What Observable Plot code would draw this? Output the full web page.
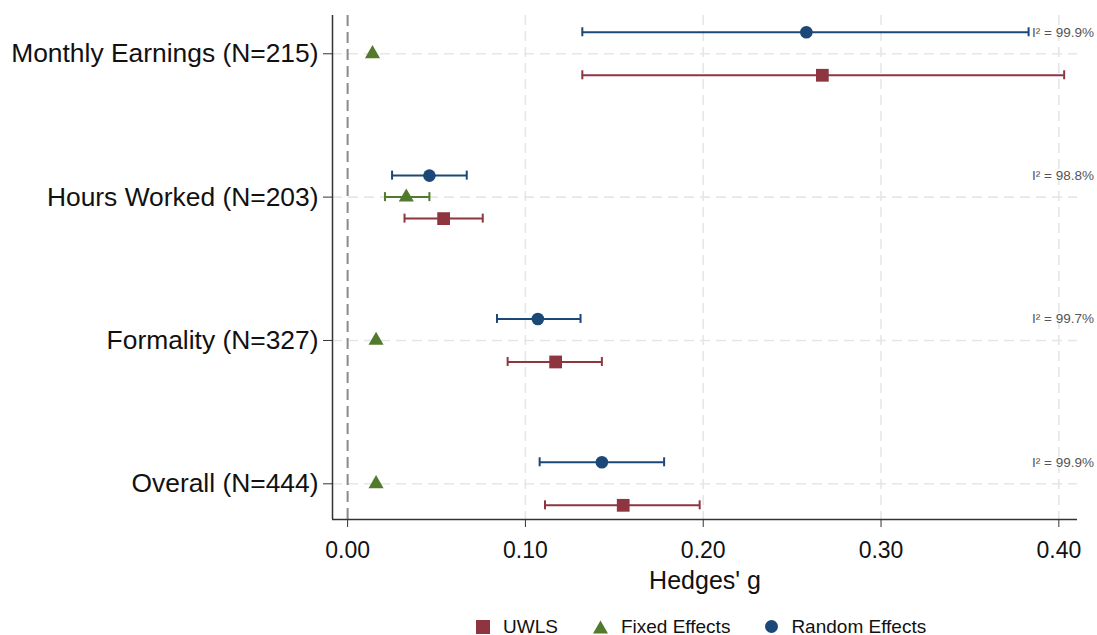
<!DOCTYPE html>
<html>
<head>
<meta charset="utf-8">
<script src="https://cdn.jsdelivr.net/npm/d3@7"></script>
<script src="https://cdn.jsdelivr.net/npm/@observablehq/plot@0.6"></script>
<style>
  html, body { margin: 0; padding: 0; background: #fff; }
  body { font-family: "Liberation Sans", Arial, sans-serif; width: 1097px; height: 635px; position: relative; overflow: hidden; }
  #chart svg { display: block; }
  #legend { position: absolute; left: 476px; top: 617px; height: 19px; display: flex; align-items: center; font-size: 19px; line-height: 19px; color: #111; white-space: nowrap; }
  #legend .item { display: flex; align-items: center; }
  #legend svg { display: block; margin-right: 13px; }
  #legend .item + .item { margin-left: 35px; }
</style>
</head>
<body>
<div id="chart"></div>
<div id="legend"></div>
<script>
// ---- Data ----
const categories = ["Monthly Earnings (N=215)", "Hours Worked (N=203)", "Formality (N=327)", "Overall (N=444)"];
const seriesNames = ["UWLS", "Fixed Effects", "Random Effects"];
const seriesColors = ["#8e3540", "#527a2c", "#1b4876"];
const uwlsEst = [0.267, 0.054, 0.117, 0.155];
const uwlsLo  = [0.132, 0.032, 0.090, 0.111];
const uwlsHi  = [0.403, 0.076, 0.143, 0.198];
const feEst = [0.014, 0.033, 0.016, 0.016];
const feLo  = [null, 0.021, null, null];
const feHi  = [null, 0.046, null, null];
const reEst = [0.258, 0.046, 0.107, 0.143];
const reLo  = [0.132, 0.025, 0.084, 0.108];
const reHi  = [0.383, 0.067, 0.131, 0.178];
const i2Labels = ["I\u00b2 = 99.9%", "I\u00b2 = 98.8%", "I\u00b2 = 99.7%", "I\u00b2 = 99.9%"];
const xTicks = [0, 0.1, 0.2, 0.3, 0.4];
const xTitle = "Hedges' g";

// ---- Layout helpers ----
const nCat = categories.length;
const catPos = categories.map((c, i) => nCat - i);          // top category highest
const seriesOffset = {"UWLS": -0.15, "Fixed Effects": 0, "Random Effects": 0.15};
const xDomain = [-0.0085, 0.4105];
const yDomain = [0.751, 4.267];

const seriesData = [
  {name: "UWLS", est: uwlsEst, lo: uwlsLo, hi: uwlsHi},
  {name: "Fixed Effects", est: feEst, lo: feLo, hi: feHi},
  {name: "Random Effects", est: reEst, lo: reLo, hi: reHi}
];
const rows = [];
seriesData.forEach((s) => {
  categories.forEach((c, i) => {
    rows.push({series: s.name, cat: c, y: catPos[i] + seriesOffset[s.name], est: s.est[i], lo: s.lo[i], hi: s.hi[i],
               color: seriesColors[seriesNames.indexOf(s.name)]});
  });
});
const ciRows = rows.filter(d => d.lo != null && d.hi != null);
const i2Rows = categories.map((c, i) => ({y: catPos[i] + seriesOffset["Random Effects"], text: i2Labels[i]}));

const dotR = {"UWLS": 7.2, "Fixed Effects": 5.6, "Random Effects": 6.3};
const dotSym = {"UWLS": "square", "Fixed Effects": "triangle", "Random Effects": "circle"};

const chart = Plot.plot({
  width: 1097,
  height: 600,
  marginTop: 15,
  marginBottom: 81,
  marginLeft: 332,
  marginRight: 20,
  x: {domain: xDomain},
  y: {domain: yDomain},
  style: {fontFamily: "'Liberation Sans', Arial, sans-serif", background: "#fff", color: "#000"},
  marks: [
    Plot.gridX(xTicks.filter(d => d > 0), {stroke: "#e6e6e6", strokeOpacity: 1, strokeWidth: 1.6, strokeDasharray: "10,6"}),
    Plot.gridY(catPos, {stroke: "#e6e6e6", strokeOpacity: 1, strokeWidth: 1.6, strokeDasharray: "10,6"}),
    Plot.ruleX([0], {stroke: "#8a8a8a", strokeWidth: 2, strokeDasharray: "11,6"}),
    Plot.axisX(xTicks, {tickFormat: d3.format(".2f"), tickSize: 8, tickPadding: 14, fontSize: 23, label: null, stroke: "#333", fill: "#111"}),
    Plot.axisY(catPos, {tickFormat: d => categories[nCat - d], tickSize: 9, tickPadding: 5, fontSize: 26.4, label: null, stroke: "#333", fill: "#111"}),
    Plot.ruleX([xDomain[0]], {stroke: "#333", strokeWidth: 1.5}),
    Plot.ruleY([yDomain[0]], {stroke: "#333", strokeWidth: 1.5}),
    // confidence intervals
    Plot.ruleY(ciRows, {x1: "lo", x2: "hi", y: "y", stroke: "color", strokeWidth: 2}),
    Plot.ruleX(ciRows, {x: "lo", y1: "y", y2: "y", insetTop: -4.5, insetBottom: -4.5, stroke: "color", strokeWidth: 2}),
    Plot.ruleX(ciRows, {x: "hi", y1: "y", y2: "y", insetTop: -4.5, insetBottom: -4.5, stroke: "color", strokeWidth: 2}),
    // point estimates
    ...seriesNames.map(s => Plot.dot(rows.filter(d => d.series === s), {
      x: "est", y: "y", symbol: () => dotSym[s], r: dotR[s], fill: "color", stroke: "none"
    })),
    // I² annotations
    Plot.text(i2Rows, {y: "y", text: "text", frameAnchor: "right", textAnchor: "end", dx: 16.5, fontSize: 13.5, fill: "#555"}),
    // x-axis title
    Plot.text([xTitle], {frameAnchor: "bottom", lineAnchor: "top", dy: 52, fontSize: 25, fill: "#111"})
  ]
});
document.getElementById("chart").appendChild(chart);

// ---- Legend ----
const legend = document.getElementById("legend");
const legendShapes = {
  "UWLS": '<svg width="14" height="14"><rect x="0" y="0" width="14" height="14" fill="COL"/></svg>',
  "Fixed Effects": '<svg width="15" height="14"><path d="M7.5,0.5L15,13.5L0,13.5Z" fill="COL"/></svg>',
  "Random Effects": '<svg width="13" height="13"><circle cx="6.5" cy="6.5" r="6.5" fill="COL"/></svg>'
};
seriesNames.forEach((s, i) => {
  const item = document.createElement("div");
  item.className = "item";
  item.innerHTML = legendShapes[s].replace("COL", seriesColors[i]) + "<span>" + s + "</span>";
  legend.appendChild(item);
});
</script>
</body>
</html>
